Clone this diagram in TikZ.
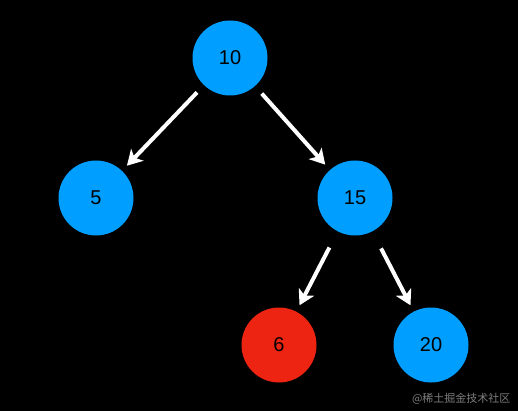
\documentclass[tikz,border=0pt]{standalone}
\usepackage{fontspec}
\setmainfont{Liberation Sans}
\newfontfamily\cjk{Noto Sans CJK SC}
\usetikzlibrary{arrows.meta}
\definecolor{nodeblue}{RGB}{0,158,255}
\definecolor{nodered}{RGB}{238,36,18}
\definecolor{markgray}{RGB}{125,125,125}

\begin{document}
\begin{tikzpicture}[x=1pt, y=-1pt, font=\fontsize{20}{23}\selectfont,
  treenode/.style={circle, fill=nodeblue, minimum size=75pt, inner sep=0pt, text=black},
  rednode/.style={treenode, fill=nodered},
  edge/.style={-{Stealth[length=15pt, width=17pt, inset=4pt]}, white, line width=4pt, shorten >=7pt, shorten <=10pt}]
  \fill[black] (0,0) rectangle (518,411);
  \node[treenode] (n10) at (230,58) {10};
  \node[treenode] (n5) at (96,198) {5};
  \node[treenode] (n15) at (355,198) {15};
  \node[rednode] (n6) at (279,345) {6};
  \node[treenode] (n20) at (431,345) {20};
  \draw[edge] (n10) -- (n5);
  \draw[edge] (n10) -- (n15);
  \draw[edge, shorten <=18pt] (n15) -- (n6);
  \draw[edge, shorten <=19pt] (n15) -- (n20);
  \node[text=markgray, font=\cjk\fontsize{11}{13}\selectfont, anchor=east] (mark) at (514,399) {@稀土掘金技术社区};
\end{tikzpicture}
\end{document}
